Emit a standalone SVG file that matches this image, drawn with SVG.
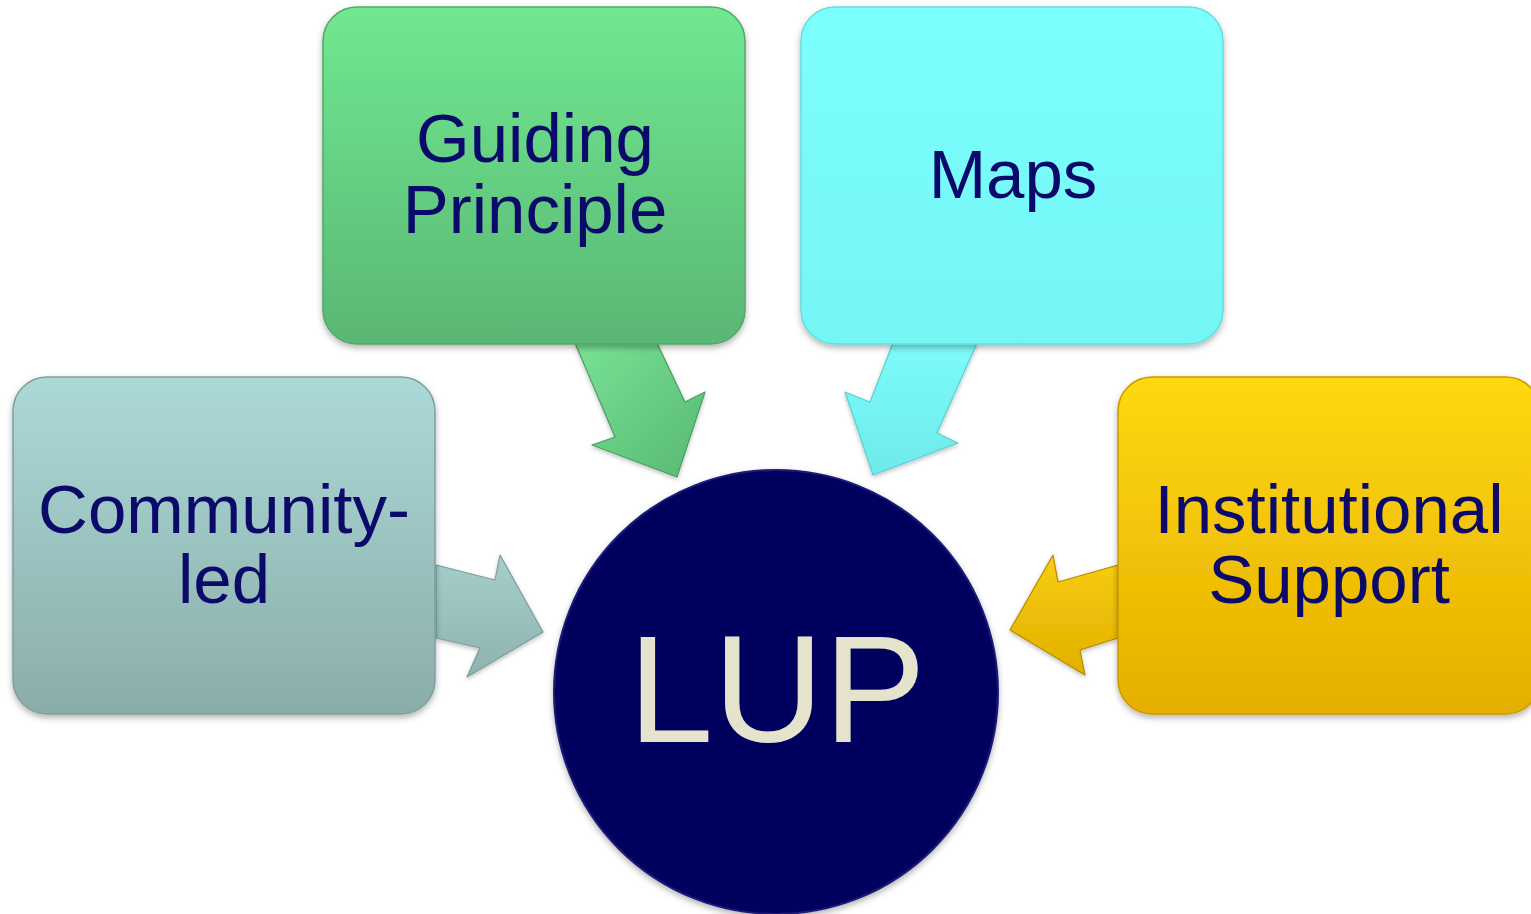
<svg xmlns="http://www.w3.org/2000/svg" width="1531" height="914" viewBox="0 0 1531 914">
<style>
.lbl{font-family:"Liberation Sans",Arial,sans-serif;font-size:69px;fill:#0B0A6B;text-anchor:middle}
.box{stroke-width:1.5;filter:url(#sh)}
.arr{stroke-width:1.2;stroke-linejoin:round;filter:url(#sh2)}
</style>
<defs>
<filter id="sh" x="-10%" y="-10%" width="120%" height="125%">
<feDropShadow dx="0" dy="3" stdDeviation="3" flood-color="#000" flood-opacity="0.3"/>
</filter>
<filter id="sh2" x="-20%" y="-20%" width="140%" height="140%">
<feDropShadow dx="0" dy="2" stdDeviation="2" flood-color="#000" flood-opacity="0.25"/>
</filter>
<linearGradient id="gG" x1="0" y1="0" x2="0" y2="1"><stop offset="0" stop-color="#70E890"/><stop offset="1" stop-color="#5AB774"/></linearGradient>
<linearGradient id="gC" x1="0" y1="0" x2="0" y2="1"><stop offset="0" stop-color="#7CFFFF"/><stop offset="1" stop-color="#76F5F5"/></linearGradient>
<linearGradient id="gT" x1="0" y1="0" x2="0" y2="1"><stop offset="0" stop-color="#ABD9D7"/><stop offset="1" stop-color="#8BADAA"/></linearGradient>
<linearGradient id="gY" x1="0" y1="0" x2="0" y2="1"><stop offset="0" stop-color="#FFD80C"/><stop offset="1" stop-color="#E5AF02"/></linearGradient>
<linearGradient id="aG" x1="0" y1="0" x2="1" y2="1"><stop offset="0" stop-color="#78E294"/><stop offset="1" stop-color="#58B873"/></linearGradient>
<linearGradient id="aC" x1="0" y1="0" x2="0" y2="1"><stop offset="0" stop-color="#7DFBFB"/><stop offset="1" stop-color="#6EEAEA"/></linearGradient>
<linearGradient id="aT" x1="0" y1="0" x2="0" y2="1"><stop offset="0" stop-color="#A5CFCC"/><stop offset="1" stop-color="#8EB3B0"/></linearGradient>
<linearGradient id="aY" x1="0" y1="0" x2="0" y2="1"><stop offset="0" stop-color="#F8CD0A"/><stop offset="1" stop-color="#E2B004"/></linearGradient>
</defs>
<g id="connectors">
<path class="arr" fill="url(#aG)" stroke="#4C9E63" d="M575,343 L657,343 L685,402 L705,392 L677,477 L592,445 L615,437 Z"/>
<path class="arr" fill="url(#aC)" stroke="#5CCFCF" d="M893,343 L977,343 L937,433 L958,443 L873,475 L845,392 L870,402 Z"/>
<path class="arr" fill="url(#aT)" stroke="#7A9E9B" d="M436,565 L495,580 L500,555 L543,632 L467,677 L480,648 L436,638 Z"/>
<path class="arr" fill="url(#aY)" stroke="#B58A00" d="M1118,565 L1058,582 L1053,555 L1010,630 L1085,675 L1080,650 L1118,638 Z"/>
</g>
<g id="node-guiding">
<rect class="box" x="323" y="7" width="422" height="337" rx="34" fill="url(#gG)" stroke="#52A86B"/>
<text class="lbl" x="535" y="162">Guiding</text>
<text class="lbl" x="535" y="233">Principle</text>
</g>
<g id="node-maps">
<rect class="box" x="801" y="7" width="422" height="337" rx="34" fill="url(#gC)" stroke="#66DCDC"/>
<text class="lbl" x="1013" y="198">Maps</text>
</g>
<g id="node-community">
<rect class="box" x="13" y="377" width="422" height="337" rx="34" fill="url(#gT)" stroke="#7E9F9C"/>
<text class="lbl" x="224" y="533">Community-</text>
<text class="lbl" x="224" y="603">led</text>
</g>
<g id="node-institutional">
<rect class="box" x="1118" y="377" width="422" height="337" rx="34" fill="url(#gY)" stroke="#C99A00"/>
<text class="lbl" x="1329" y="533">Institutional</text>
<text class="lbl" x="1329" y="603">Support</text>
</g>
<g id="node-lup">
<circle cx="776" cy="692" r="222" fill="#05055E" stroke="#1A1A78" stroke-width="2" filter="url(#sh)"/>
<text x="777" y="742" font-family="Liberation Sans, Arial, sans-serif" font-size="153" fill="#E4E3CB" text-anchor="middle">LUP</text>
</g>
</svg>
